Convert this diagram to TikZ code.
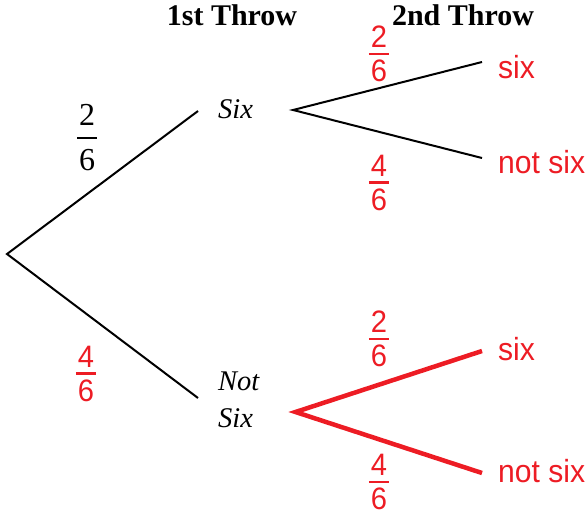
\documentclass[tikz,border=0pt]{standalone}
\usepackage{fontspec}
\setmainfont{Liberation Serif}
\newfontfamily\redsans[FakeStretch=0.94]{Liberation Sans}
\definecolor{tred}{HTML}{ED1C24}

% fraction: gap and rule set by the style
\newcommand{\frc}[2]{\vbox{\halign{\hskip2pt\hfil##\hfil\hskip2pt\cr #1\cr\noalign{\kern\fgap\hrule height \frule\kern\fgap}#2\cr}}}

\tikzset{
  head/.style={font=\fontsize{30}{35}\selectfont\bfseries, inner sep=0pt},
  first/.style={font=\fontsize{28.5}{37}\selectfont\itshape, inner sep=0pt},
  second/.style={font=\redsans\fontsize{32}{38}\selectfont, text=tred, inner sep=0pt},
  bfrac/.style={font=\fontsize{32}{38}\selectfont\def\fgap{11pt}\def\frule{1.8pt}, inner sep=0pt},
  rfrac/.style={font=\redsans\fontsize{31}{36}\selectfont\def\fgap{5pt}\def\frule{2.4pt}, text=tred, inner sep=0pt},
  branch/.style={line width=2pt},
  redbranch/.style={line width=4.5pt, draw=tred},
}

\begin{document}
\begin{tikzpicture}[x=1pt,y=-1pt]
  \useasboundingbox (0,0) rectangle (588,517);

  % Points of the tree
  \coordinate (root) at (7,254);
  \coordinate (A) at (198,111);
  \coordinate (B) at (198,398);
  \coordinate (A1) at (293,110);
  \coordinate (B1) at (295.5,412);
  \coordinate (AA) at (482,62);
  \coordinate (AB) at (482,158);
  \coordinate (BA) at (482,351);
  \coordinate (BB) at (482,473);

  % Branches
  \draw[branch] (A) -- (root) -- (B);
  \draw[branch] (AA) -- (A1) -- (AB);
  \draw[redbranch] (BA) -- (B1) -- (BB);

  % Headings
  \node[head, anchor=base] (h1) at (232,25) {1st Throw};
  \node[head, anchor=base] (h2) at (463,25) {2nd Throw};

  % Outcomes
  \node[first, anchor=base west] (six) at (218,118) {Six};
  \node[first, anchor=west, align=left] (notsix) at (218,400) {Not\\Six};
  \node[second, anchor=base west] (s1) at (498,78) {six};
  \node[second, anchor=base west] (n1) at (498,173) {not six};
  \node[second, anchor=base west] (s2) at (498,360) {six};
  \node[second, anchor=base west] (n2) at (498,482) {not six};

  % Probabilities
  \node[bfrac] (p1) at (87,138) {\frc{2}{6}};
  \node[rfrac] (p2) at (86,374) {\frc{4}{6}};
  \node[rfrac] (p3) at (379,54) {\frc{2}{6}};
  \node[rfrac] (p4) at (379,183) {\frc{4}{6}};
  \node[rfrac] (p5) at (379,339) {\frc{2}{6}};
  \node[rfrac] (p6) at (379,482) {\frc{4}{6}};
\end{tikzpicture}
\end{document}
